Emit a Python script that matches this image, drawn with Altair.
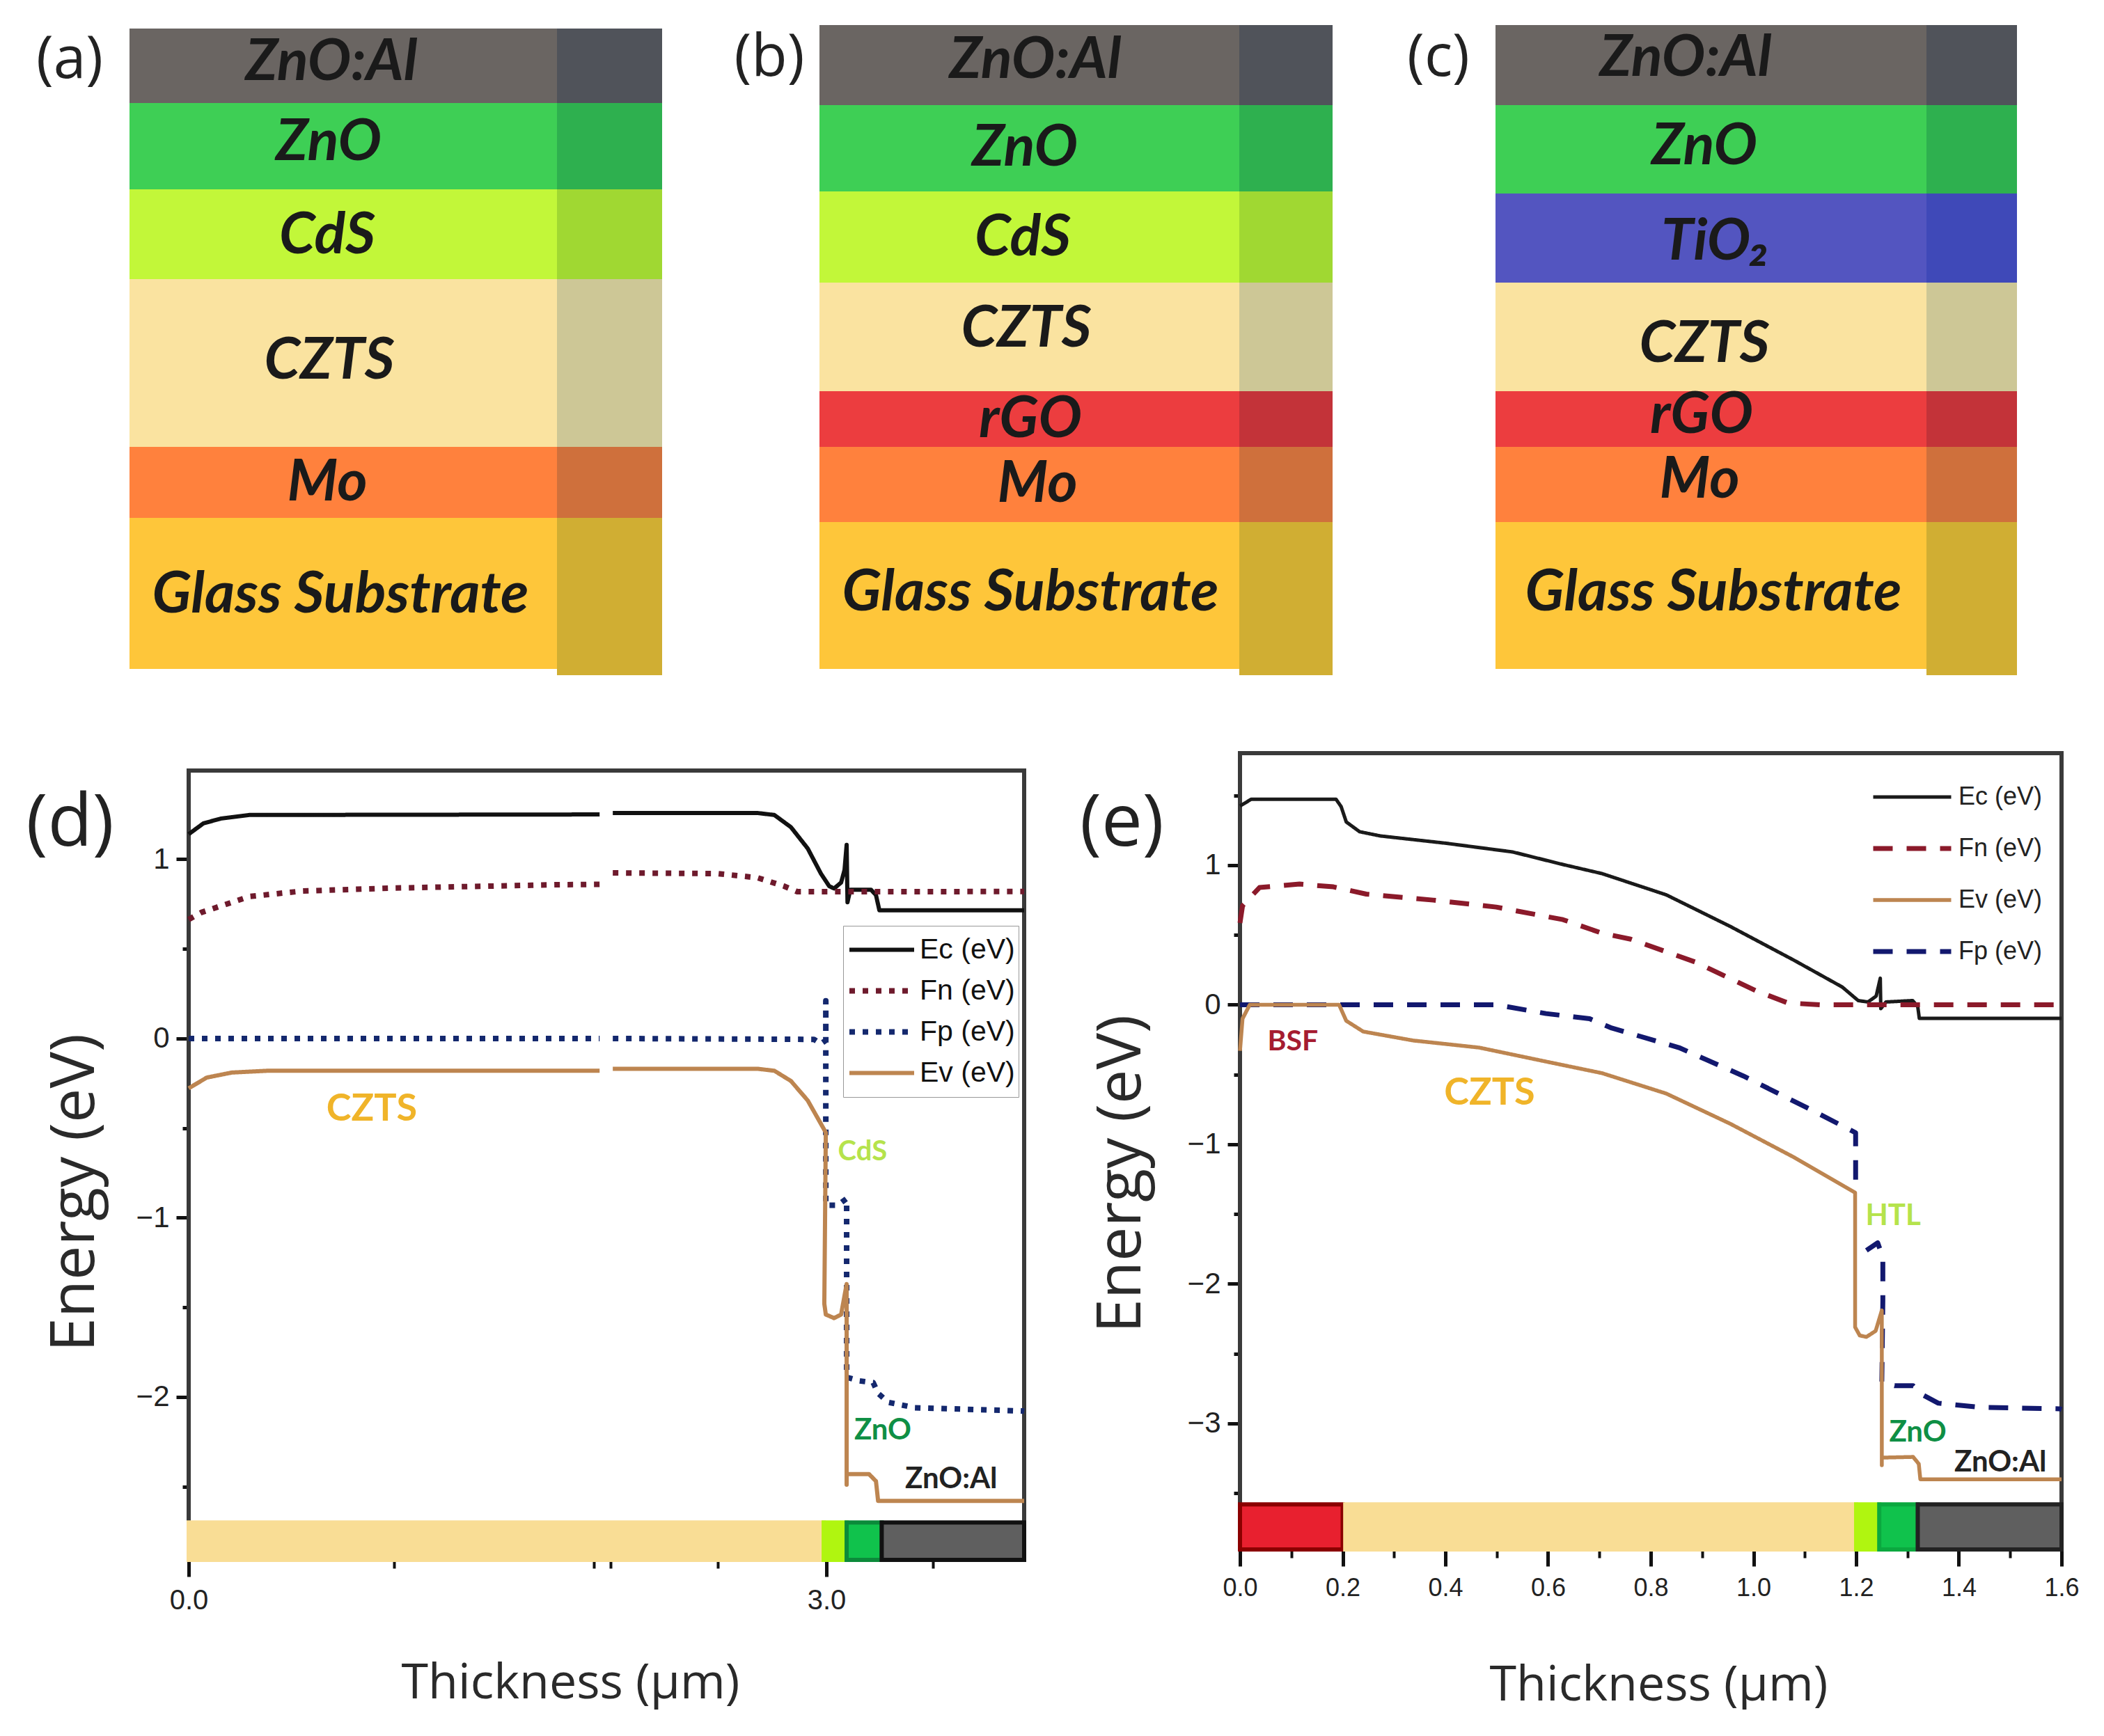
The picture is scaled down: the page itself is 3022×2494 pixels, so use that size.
import altair as alt
import pandas as pd

# ---------- layer stacks (a)-(c): boundaries measured along the stack ----------
front = {"ZnO:Al": "#6a6562", "ZnO": "#3ecf55", "CdS": "#c2f739", "TiO₂": "#5355c0", "CZTS": "#fae3a0",
         "rGO": "#ec3d3f", "Mo": "#ff813d", "Glass Substrate": "#fec63a"}
side = {"ZnO:Al": "#50535a", "ZnO": "#2eb04f", "CdS": "#a0d832", "TiO₂": "#3f49b8", "CZTS": "#cdc796",
        "rGO": "#c33339", "Mo": "#cf703c", "Glass Substrate": "#d0ae33"}

a_layers = ["ZnO:Al", "ZnO", "CdS", "CZTS", "Mo", "Glass Substrate"]
a_edges = [40, 147, 271, 400, 641, 743, 960]
a_span = [185, 799, 950]
a_text_x = [475, 471, 469, 472, 469, 488]
a_text_y = [86, 201, 335, 515, 690, 851]

b_layers = ["ZnO:Al", "ZnO", "CdS", "CZTS", "rGO", "Mo", "Glass Substrate"]
b_edges = [35, 150, 274, 405, 561, 641, 749, 960]
b_span = [1176, 1779, 1913]
b_text_x = [1486, 1471, 1468, 1473, 1479, 1489, 1479]
b_text_y = [83, 209, 338, 469, 599, 692, 848]

c_layers = ["ZnO:Al", "ZnO", "TiO₂", "CZTS", "rGO", "Mo", "Glass Substrate"]
c_edges = [35, 150, 277, 405, 561, 641, 749, 960]
c_span = [2147, 2766, 2896]
c_text_x = [2420, 2447, 2463, 2447, 2443, 2440, 2460]
c_text_y = [80, 207, 344, 491, 593, 686, 848]

# ---------- band diagram (d) ----------
d_ec_x = [0, .069, .151, .285, 1.933, 1.96, 1.995, 2.676, 2.755, 2.833, 2.912, 2.974, 3.013, 3.036, 3.069, 3.085, 3.095, 3.099, 3.112, 3.21, 3.233, 3.249, 3.93]
d_ec_y = [1.14, 1.2, 1.227, 1.247, 1.25, None, 1.258, 1.258, 1.247, 1.179, 1.06, .92, .85, .837, .87, .94, 1.08, .76, .83, .83, .80, .715, .715]
d_fn_x = [0, .059, .285, .537, .953, 1.736, 1.933, 1.96, 1.995, 2.489, 2.676, 2.80, 2.863, 3.036, 3.93]
d_fn_y = [.664, .703, .792, .823, .839, .858, .86, None, .924, .92, .897, .85, .819, .819, .82]
d_fp_x = [0, 1.933, 1.96, 1.995, 2.941, 2.974, 2.997, 2.997, 2.997, 3.053, 3.095, 3.095, 3.154, 3.22, 3.243, 3.292, 3.416, 3.92, 3.93]
d_fp_y = [0, 0, None, 0, -.005, -.03, -.01, .21, -.93, -.93, -.893, -1.89, -1.91, -1.92, -1.98, -2.03, -2.06, -2.078, -2.08]
d_ev_x = [0, .085, .203, .37, 1.933, 1.96, 1.995, 2.676, 2.755, 2.833, 2.912, 2.974, 2.997, 2.99, 2.997, 3.036, 3.069, 3.095, 3.095, 3.095, 3.2, 3.233, 3.243, 3.93]
d_ev_y = [-.278, -.218, -.19, -.18, -.18, None, -.169, -.169, -.18, -.237, -.346, -.476, -.525, -1.48, -1.54, -1.56, -1.54, -1.37, -2.49, -2.43, -2.43, -2.47, -2.58, -2.58]

d_bar_names = ["CZTS", "CdS", "ZnO", "ZnO:Al"]
d_bar_start = [0, 2.987, 3.095, 3.26]
d_bar_end = [2.987, 3.095, 3.26, 3.93]
d_bar_fill = ["#f9dd95", "#b0f510", "#10c24c", "#5f5f5f"]
d_bar_edge = ["#f9dd95", "#b0f510", "#0b8a3a", "#111111"]

d_text = ["CZTS", "CdS", "ZnO", "ZnO:Al"]
d_text_x = [.861, 3.17, 3.265, 3.587]
d_text_y = [-.396, -.633, -2.186, -2.458]
d_text_c = ["#f0b429", "#b5e34c", "#0f8f45", "#222222"]
d_text_s = [54, 40, 42, 42]

# ---------- band diagram (e) ----------
e_ec_x = [0, .022, .187, .197, .207, .233, .273, .402, .531, .629, .705, .83, .955, 1.08, 1.173, 1.204, 1.223, 1.239, 1.247, 1.248, 1.258, 1.31, 1.32, 1.323, 1.6]
e_ec_y = [1.424, 1.473, 1.473, 1.42, 1.31, 1.24, 1.21, 1.157, 1.095, 1.005, .94, .788, .561, .317, .127, .03, .02, .062, .19, -.028, .02, .03, -.013, -.097, -.097]
e_fn_x = [0, .005, .038, .116, .182, .246, .376, .499, .629, .705, .761, .886, 1.005, 1.067, 1.13, 1.6]
e_fn_y = [.586, .71, .84, .865, .845, .793, .75, .70, .61, .513, .47, .307, .10, .013, 0, 0]
e_ev_x = [0, .005, .019, .193, .207, .24, .337, .466, .596, .705, .83, .955, 1.08, 1.198, 1.198, 1.207, 1.22, 1.238, 1.25, 1.25, 1.25, 1.311, 1.322, 1.325, 1.6]
e_ev_y = [-.33, -.1, 0, 0, -.115, -.192, -.256, -.307, -.407, -.49, -.636, -.853, -1.095, -1.346, -2.31, -2.37, -2.38, -2.337, -2.19, -3.30, -3.245, -3.24, -3.29, -3.40, -3.40]
e_fp_x = [0, .193, .499, .596, .681, .724, .855, .98, 1.105, 1.199, 1.199, 1.21, 1.22, 1.242, 1.252, 1.252, 1.25, 1.275, 1.311, 1.327, 1.36, 1.442, 1.596, 1.6]
e_fp_y = [0, 0, 0, -.063, -.10, -.167, -.307, -.51, -.739, -.917, -1.335, None, -1.76, -1.706, -1.81, -2.12, -2.706, -2.73, -2.73, -2.79, -2.855, -2.885, -2.895, -2.9]

e_bar_names = ["BSF", "CZTS", "HTL", "ZnO", "ZnO:Al"]
e_bar_start = [0, .205, 1.2, 1.245, 1.32]
e_bar_end = [.2, 1.2, 1.245, 1.32, 1.6]
e_bar_fill = ["#e8202f", "#f9dd95", "#b0f510", "#10c24c", "#5f5f5f"]
e_bar_edge = ["#8b0000", "#f9dd95", "#b0f510", "#0ba83f", "#222222"]

e_text = ["BSF", "CZTS", "HTL", "ZnO", "ZnO:Al"]
e_text_x = [.103, .486, 1.272, 1.32, 1.481]
e_text_y = [-.267, -.636, -1.514, -3.066, -3.28]
e_text_c = ["#a51c30", "#f0b429", "#b5e34c", "#0f8f45", "#222222"]
e_text_s = [41, 54, 42, 42, 42]

TITLE_FONT = "Open Sans"
TICK_FONT = "Liberation Sans"
LABEL_FONT = "Lato"
ROW1_H = 1073


def spacer(w, h=10):
    return alt.Chart(pd.DataFrame({"v": [0]})).mark_point(opacity=0, size=1).encode(
        x=alt.value(0), y=alt.value(0)).properties(width=w, height=h)


def stack(layers, edges, span, tx, ty, tag, tag_x, tag_y, origin, width):
    xs = alt.Scale(domain=[origin, origin + width], nice=False, zero=False)
    ys = alt.Scale(domain=[8 + ROW1_H, 8], nice=False, zero=False)
    rows = []
    for i, n in enumerate(layers):
        rows.append(dict(x=span[0], x2=span[1], y=edges[i], y2=edges[i + 1], c=front[n]))
        rows.append(dict(x=span[1], x2=span[2], y=edges[i],
                         y2=edges[i + 1] + (9 if i == len(layers) - 1 else 0), c=side[n]))
    rects = alt.Chart(pd.DataFrame(rows)).mark_rect().encode(
        x=alt.X("x:Q", scale=xs, axis=None), x2="x2:Q",
        y=alt.Y("y:Q", scale=ys, axis=None), y2="y2:Q",
        fill=alt.Fill("c:N", scale=None))
    names = alt.Chart(pd.DataFrame(dict(t=layers, x=tx, y=ty))).mark_text(
        font=LABEL_FONT, fontWeight="bold", fontStyle="italic", fontSize=83, color="#1a1a1a",
        baseline="middle", align="center", dy=3).encode(
        x=alt.X("x:Q", scale=xs, axis=None), y=alt.Y("y:Q", scale=ys, axis=None), text="t:N")
    letter = alt.Chart(pd.DataFrame(dict(t=[tag], x=[tag_x], y=[tag_y]))).mark_text(
        font=TITLE_FONT, fontSize=84, color="#222222", baseline="middle", align="center").encode(
        x=alt.X("x:Q", scale=xs, axis=None), y=alt.Y("y:Q", scale=ys, axis=None), text="t:N")
    return alt.layer(rects, names, letter).properties(width=width, height=ROW1_H)


def band(series, order, dashes, widths, colors, xdom, ydom, w, h, bars, text, xmaj, xmin, ymaj, ymin,
         tag, tag_x, tag_y, xtick_font, x_title, y_title, legend):
    xs = alt.Scale(domain=xdom, nice=False, zero=False)
    ys = alt.Scale(domain=ydom, nice=False, zero=False)
    no_x = alt.X("x:Q", scale=xs, axis=None)
    no_y = alt.Y("y:Q", scale=ys, axis=None)

    frame_top = tag["top"]
    frame = alt.Chart(pd.DataFrame(dict(x=[xdom[0]], x2=[xdom[1]], y=[ydom[0]], y2=[frame_top]))).mark_rect(
        fill="white", fillOpacity=0, stroke="#3a3a3a", strokeWidth=6).encode(
        x=alt.X("x:Q", scale=xs, axis=alt.Axis(
            values=xmaj, format=".1f", grid=False, domain=False, tickSize=24, tickWidth=5, tickColor="#111111",
            labelFont=TICK_FONT, labelFontSize=xtick_font, labelColor="#222222", labelPadding=14,
            labelFlush=False, labelOverlap=False, orient="bottom",
            title="Thickness (µm)", titleFont=TITLE_FONT, titleFontSize=70, titleFontWeight="normal",
            titleColor="#2a2a2a", titleX=x_title[0], titleY=x_title[1], titleBaseline="middle",
            titleAlign="center", titleAnchor="start")),
        x2="x2:Q",
        y=alt.Y("y:Q", scale=ys, axis=alt.Axis(
            values=ymaj, format="d", grid=False, domain=False, tickSize=18, tickWidth=5, tickColor="#111111",
            labelFont=TICK_FONT, labelFontSize=42, labelColor="#222222", labelPadding=10,
            labelFlush=False, labelOverlap=False, orient="left",
            title="Energy (eV)", titleFont=TITLE_FONT, titleFontSize=88, titleFontWeight="normal",
            titleColor="#2a2a2a", titleX=y_title[0], titleY=y_title[1], titleAngle=270,
            titleBaseline="middle", titleAlign="center", titleAnchor="start")),
        y2="y2:Q")

    minor = alt.Chart(pd.DataFrame(dict(x=[xdom[0]], y=[ydom[0]]))).mark_point(opacity=0, size=1).encode(
        x=alt.X("x:Q", scale=xs, axis=alt.Axis(
            values=xmin, labels=False, domain=False, grid=False, tickSize=12, tickWidth=4,
            tickColor="#111111", title=None, orient="bottom")),
        y=alt.Y("y:Q", scale=ys, axis=alt.Axis(
            values=ymin, labels=False, domain=False, grid=False, tickSize=9, tickWidth=5,
            tickColor="#111111", title=None, orient="left")))

    bar_rect = alt.Chart(pd.DataFrame(bars)).mark_rect(strokeWidth=6).encode(
        x=alt.X("x:Q", scale=xs, axis=None), x2="x2:Q",
        y=alt.Y("y:Q", scale=ys, axis=None), y2="y2:Q",
        fill=alt.Fill("f:N", scale=None), stroke=alt.Stroke("e:N", scale=None),
        tooltip="name:N")

    lines = alt.Chart(pd.DataFrame(series)).mark_line(strokeCap="butt", strokeJoin="round").encode(
        x=no_x, y=no_y, order=alt.Order("i:Q"),
        color=alt.Color("Series:N", scale=alt.Scale(domain=order, range=colors), legend=legend),
        strokeDash=alt.StrokeDash("Series:N", scale=alt.Scale(domain=order, range=dashes), legend=legend),
        strokeWidth=alt.StrokeWidth("Series:N", scale=alt.Scale(type="ordinal", domain=order, range=widths),
                                    legend=legend))

    notes = alt.Chart(pd.DataFrame(text)).mark_text(
        font=LABEL_FONT, fontWeight="bold", baseline="middle", align="center").encode(
        x=no_x, y=no_y, text="t:N", color=alt.Color("c:N", scale=None), size=alt.Size("s:Q", scale=None))

    letter = alt.Chart(pd.DataFrame(dict(t=[tag["t"]], x=[tag_x], y=[tag_y]))).mark_text(
        font=TITLE_FONT, fontSize=105, color="#222222", baseline="middle", align="center").encode(
        x=no_x, y=no_y, text="t:N")

    return alt.layer(frame, minor, lines, bar_rect, notes, letter).resolve_axis(
        x="independent", y="independent").properties(width=w, height=h)


def series_rows(pairs):
    rows = []
    for name, xv, yv in pairs:
        for i, (x, y) in enumerate(zip(xv, yv)):
            rows.append(dict(Series=name, i=i, x=x, y=y))
    return rows


def bar_rows(names, start, end, fill, edge, top, bottom):
    return [dict(name=n, x=s, x2=t, f=f, e=e, y=bottom, y2=top)
            for n, s, t, f, e in zip(names, start, end, fill, edge)]


# grid columns: 8-270, 270-1470, 1470-1780, 1780-2960; the stacks run past their cell
A = stack(a_layers, a_edges, a_span, a_text_x, a_text_y, "(a)", 99, 86, 8, 262)
B = stack(b_layers, b_edges, b_span, b_text_x, b_text_y, "(b)", 1104, 83, 270, 1200)
C = stack(c_layers, c_edges, c_span, c_text_x, c_text_y, "(c)", 2065, 83, 1780, 1180)

legend_d = alt.Legend(orient="none", legendX=940, legendY=248, title=None, symbolType="stroke",
                      symbolSize=8649, clipHeight=59, rowPadding=0, padding=5, labelOffset=4,
                      labelFont=TICK_FONT, labelFontSize=41, labelColor="#111111",
                      strokeColor="#999999", fillColor="white")
D = band(series_rows([("Ec (eV)", d_ec_x, d_ec_y), ("Fn (eV)", d_fn_x, d_fn_y),
                      ("Fp (eV)", d_fp_x, d_fp_y), ("Ev (eV)", d_ev_x, d_ev_y)]),
         ["Ec (eV)", "Fn (eV)", "Fp (eV)", "Ev (eV)"],
         [[1, 0], [8, 11], [8, 11], [1, 0]], [6, 8, 8, 6],
         ["#111111", "#6e1a2c", "#14286e", "#bd8550"],
         [0, 3.93], [-2.909, 1.592], 1200, 1159,
         bar_rows(d_bar_names, d_bar_start, d_bar_end, d_bar_fill, d_bar_edge, -2.70, -2.909),
         dict(t=d_text, x=d_text_x, y=d_text_y, c=d_text_c, s=d_text_s),
         [0, 3], [.966, 1.906, 1.985, 2.49, 3.5], [1, 0, -1, -2], [.5, -.5, -1.5, -2.5],
         dict(t="(d)", top=1.495), -.558, 1.2, 40, (548, 177), (-163, 631), legend_d)

legend_e = alt.Legend(orient="none", legendX=906, legendY=26, title=None, symbolType="stroke",
                      symbolSize=12544, clipHeight=74, rowPadding=0, padding=0, labelOffset=7,
                      labelFont=TICK_FONT, labelFontSize=36, labelColor="#222222")
E = band(series_rows([("Ec (eV)", e_ec_x, e_ec_y), ("Fn (eV)", e_fn_x, e_fn_y),
                      ("Fp (eV)", e_fp_x, e_fp_y), ("Ev (eV)", e_ev_x, e_ev_y)]),
         ["Ec (eV)", "Fn (eV)", "Ev (eV)", "Fp (eV)"],
         [[1, 0], [28, 20], [1, 0], [28, 20]], [5, 7, 5.5, 7],
         ["#1a1a1a", "#8b1a2a", "#bd8550", "#12186e"],
         [0, 1.6], [-3.903, 1.803], 1180, 1144,
         bar_rows(e_bar_names, e_bar_start, e_bar_end, e_bar_fill, e_bar_edge, -3.58, -3.903),
         dict(t=e_text, x=e_text_x, y=e_text_y, c=e_text_c, s=e_text_s),
         [0, .2, .4, .6, .8, 1.0, 1.2, 1.4, 1.6], [.1, .3, .5, .7, .9, 1.1, 1.3, 1.5],
         [1, 0, -1, -2, -3], [1.5, .5, -.5, -1.5, -2.5, -3.5],
         dict(t="(e)", top=1.803), -.23, 1.3, 36, (601, 195), (-170, 604), legend_e)

chart = alt.concat(A, B, spacer(310), C,
                   spacer(262), D, spacer(310), E,
                   columns=4, spacing=0, bounds="flush").resolve_scale(
    color="independent", strokeDash="independent", strokeWidth="independent"
).configure_view(stroke=None).properties(padding=0, background="white")

chart.save("out.html", embed_options={"renderer": "svg", "actions": False})
